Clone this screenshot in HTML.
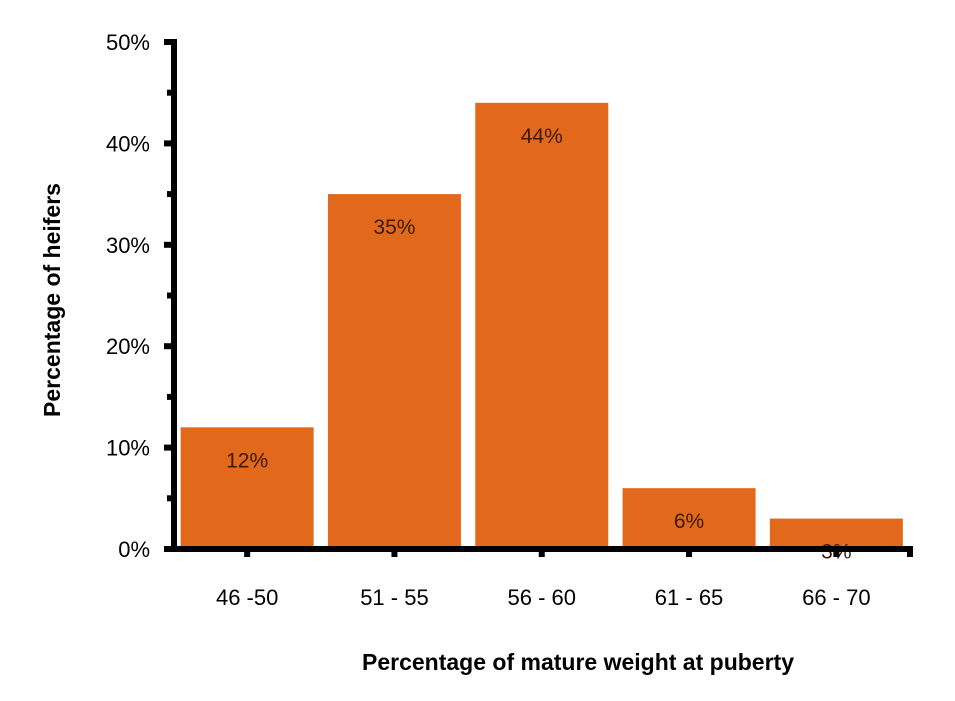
<!DOCTYPE html>
<html><head><meta charset="utf-8"><style>
body{margin:0;background:#fff;}
svg{display:block;font-family:"Liberation Sans",sans-serif;}
</style></head><body>
<svg id="chart" width="955" height="701">
<g id="marks"></g>
<g id="axes"></g>
<text x="60" y="300" transform="rotate(-90 60 300)" text-anchor="middle" font-size="23" font-weight="bold" fill="#000">Percentage of heifers</text>
<text x="578" y="670" text-anchor="middle" font-size="23" font-weight="bold" fill="#000">Percentage of mature weight at puberty</text>
</svg>
<script>
const categories = ["46 -50", "51 - 55", "56 - 60", "61 - 65", "66 - 70"];
const values = [12, 35, 44, 6, 3];
const yTicks = [0, 10, 20, 30, 40, 50];
const NS = "http://www.w3.org/2000/svg";
const x0 = 173.5, bandW = 147.3, y0 = 549, pxPer = 10.14;
const xC = i => x0 + bandW * (i + 0.5);
const yS = v => y0 - v * pxPer;
const marks = document.getElementById('marks');
const axes = document.getElementById('axes');
function mk(tag, attrs, parent){const e=document.createElementNS(NS,tag);for(const k in attrs)e.setAttribute(k,attrs[k]);parent.appendChild(e);return e;}
values.forEach((v,i)=>{
  const r = mk('rect',{x:xC(i)-66.5,y:yS(v),width:133,height:y0-yS(v),fill:'#E2691C'},marks);
  
  
  const t = mk('text',{x:xC(i),y:yS(v)+40,'text-anchor':'middle','font-size':'21',fill:'#3a1a08'},marks);
  t.textContent = v + '%';
  
  
  const c = mk('text',{x:xC(i),y:605,'text-anchor':'middle','font-size':'22',fill:'#000'},axes);
  c.textContent = categories[i];
  
  
  mk('rect',{x:xC(i)-3,y:y0,width:6,height:8,fill:'#000'},axes);
});
yTicks.forEach(v=>{
  mk('rect',{x:164,y:yS(v)-3,width:10,height:6,fill:'#000'},axes);
  const t = mk('text',{x:150,y:yS(v)+8,'text-anchor':'end','font-size':'22',fill:'#000'},axes);
  t.textContent = v + '%';
  
  
});
for(let v=5; v<50; v+=10){ mk('rect',{x:167,y:yS(v)-3,width:7,height:6,fill:'#000'},axes); }
const ya = mk('rect',{x:171,y:yS(50)-3,width:6,height:y0-yS(50)+6,fill:'#000'},axes);


const xa = mk('rect',{x:164,y:y0-3,width:749,height:6,fill:'#000'},axes);


mk('rect',{x:907,y:y0,width:6,height:8,fill:'#000'},axes);
</script>
</body></html>
